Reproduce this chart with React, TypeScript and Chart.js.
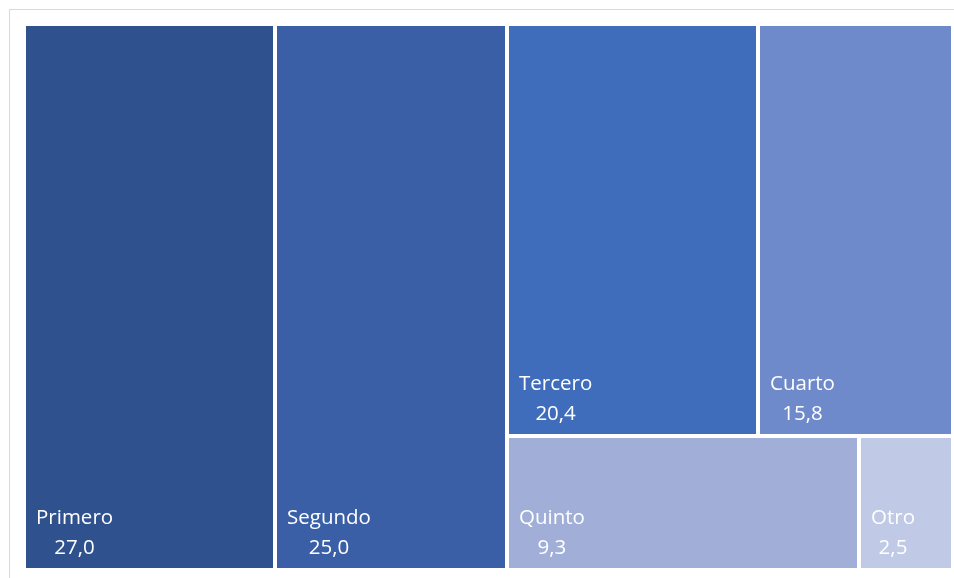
import React, { useEffect, useRef } from "react";
import { Chart, registerables } from "chart.js";

Chart.register(...registerables);

const categories = ["Primero", "Segundo", "Tercero", "Cuarto", "Quinto", "Otro"];
const values = [27.0, 25.0, 20.4, 15.8, 9.3, 2.5];
const colors = ["#2F528F", "#3A5FA6", "#3F6CBB", "#6E8ACB", "#A1AFD8", "#C0CAE6"];
// grouping: columns -> rows -> category indices
const layoutGroups = [[[0]], [[1]], [[2, 3], [4, 5]]];

const fmt = (v: number) => v.toFixed(1).replace(".", ",");

type Cell = { i: number; x0: number; x1: number; y0: number; y1: number };

function computeCells(): Cell[] {
  const total = values.reduce((a, b) => a + b, 0);
  const cells: Cell[] = [];
  let x = 0;
  for (const col of layoutGroups) {
    const colSum = col.flat().reduce((a, i) => a + values[i], 0);
    const w = (colSum / total) * 100;
    let y = 0;
    for (const row of col) {
      const rowSum = row.reduce((a, i) => a + values[i], 0);
      const h = (rowSum / colSum) * 100;
      let rx = x;
      for (const i of row) {
        const cw = (values[i] / rowSum) * w;
        cells.push({ i, x0: rx, x1: rx + cw, y0: y, y1: y + h });
        rx += cw;
      }
      y += h;
    }
    x += w;
  }
  return cells;
}

const treemapPlugin = {
  id: "treemapDraw",
  beforeDraw(chart: any) {
    const ctx = chart.ctx;
    ctx.save();
    ctx.strokeStyle = "#D9D9D9";
    ctx.lineWidth = 1;
    ctx.strokeRect(9.5, 9.5, 2000, 2000);
    ctx.restore();
  },
  afterDatasetsDraw(chart: any) {
    const ctx = chart.ctx;
    const xs = chart.scales.x;
    const ys = chart.scales.y;
    const gap = 2;
    ctx.save();
    for (const c of computeCells()) {
      const l = Math.round(xs.getPixelForValue(c.x0)) + gap;
      const r = Math.round(xs.getPixelForValue(c.x1)) - gap;
      const t = Math.round(ys.getPixelForValue(c.y0)) + gap;
      const b = Math.round(ys.getPixelForValue(c.y1)) - gap;
      ctx.fillStyle = colors[c.i];
      ctx.fillRect(l, t, r - l, b - t);
      ctx.fillStyle = "#FFFFFF";
      ctx.font = '20.5px "Open Sans", sans-serif';
      ctx.textBaseline = "alphabetic";
      ctx.textAlign = "left";
      const name = categories[c.i];
      const nx = l + 10;
      ctx.fillText(name, nx, b - 44);
      const nw = ctx.measureText(name).width;
      ctx.textAlign = "center";
      ctx.fillText(fmt(values[c.i]), nx + nw / 2, b - 14);
    }
    ctx.restore();
  },
};

export default function App() {
  const ref = useRef<HTMLCanvasElement>(null);
  useEffect(() => {
    if (!ref.current) return;
    const chart = new Chart(ref.current, {
      type: "scatter",
      data: {
        datasets: [
          {
            label: "Treemap",
            data: categories.map(() => ({ x: 0, y: 0 })),
            pointRadius: 0,
            pointHoverRadius: 0,
          },
        ],
      },
      options: {
        responsive: false,
        animation: false,
        events: [],
        layout: { padding: { left: 24, top: 24, right: 1, bottom: 8 } },
        plugins: { legend: { display: false }, tooltip: { enabled: false } },
        scales: {
          x: { type: "linear", min: 0, max: 100, display: false },
          y: { type: "linear", min: 0, max: 100, reverse: true, display: false },
        },
      },
      plugins: [treemapPlugin],
    });
    return () => chart.destroy();
  }, []);
  return (
    <canvas
      ref={ref}
      width={954}
      height={578}
      style={{ position: "absolute", left: 0, top: 0, width: 954, height: 578 }}
    />
  );
}
